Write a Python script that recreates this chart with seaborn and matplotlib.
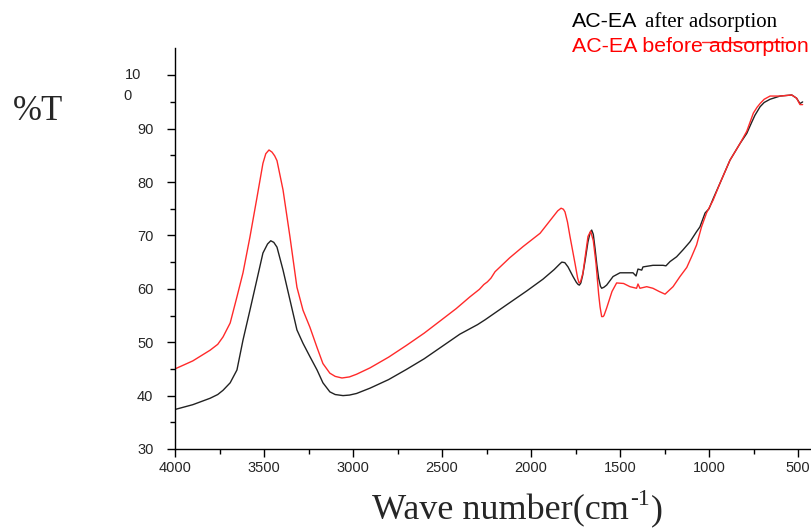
import matplotlib
matplotlib.use("Agg")
import matplotlib.pyplot as plt
from matplotlib.lines import Line2D
import numpy as np
import pandas as pd
import seaborn as sns

# ---------------- data ----------------
after_wn = [4000, 3900, 3803, 3760, 3730, 3690, 3652, 3618, 3579, 3540, 3506, 3480,
            3462, 3445, 3427, 3393, 3354, 3315, 3281, 3242, 3202, 3169, 3130, 3100,
            3056, 3020, 2980, 2904, 2800, 2700, 2600, 2500, 2400, 2300, 2258, 2137,
            2024, 1933, 1870, 1840, 1827, 1810, 1792, 1764, 1745, 1735, 1728, 1720,
            1710, 1695, 1680, 1668, 1659, 1650, 1640, 1630, 1620, 1610, 1603, 1590,
            1575, 1539, 1500, 1427, 1410, 1399, 1378, 1371, 1315, 1258, 1242, 1219,
            1182, 1146, 1107, 1070, 1051, 1022, 1000, 975, 938, 882, 826, 788, 760,
            742, 713, 690, 657, 601, 535, 508, 489, 474]
after_T = [37.4, 38.3, 39.5, 40.2, 41.0, 42.4, 44.8, 50.4, 56.0, 61.7, 66.7, 68.4,
           69.0, 68.7, 67.8, 63.5, 57.9, 52.3, 49.8, 47.3, 44.8, 42.4, 40.7, 40.2,
           40.0, 40.1, 40.4, 41.4, 43.0, 44.9, 46.9, 49.2, 51.5, 53.3, 54.2, 57.0,
           59.6, 61.8, 63.6, 64.6, 65.0, 64.9, 64.1, 62.3, 61.2, 60.8, 60.7, 61.1,
           62.5, 65.5, 68.8, 70.5, 71.0, 70.2, 67.5, 64.5, 62.0, 60.5, 60.1, 60.3,
           60.7, 62.3, 63.0, 63.0, 62.4, 63.7, 63.5, 64.1, 64.4, 64.4, 64.3, 65.1,
           66.0, 67.3, 68.8, 70.7, 71.6, 74.2, 75.0, 77.0, 79.8, 84.1, 87.2, 89.1,
           91.2, 92.5, 94.1, 94.9, 95.5, 96.1, 96.3, 95.7, 94.7, 95.0]

before_wn = [4000, 3900, 3803, 3760, 3730, 3690, 3652, 3618, 3579, 3540, 3506, 3490,
             3472, 3455, 3440, 3427, 3393, 3354, 3315, 3281, 3242, 3202, 3169, 3130,
             3100, 3062, 3020, 2980, 2904, 2800, 2700, 2600, 2502, 2420, 2343, 2290,
             2265, 2245, 2225, 2202, 2120, 2045, 1949, 1876, 1850, 1831, 1818, 1809,
             1795, 1781, 1753, 1738, 1730, 1722, 1708, 1680, 1665, 1650, 1635, 1620,
             1612, 1603, 1595, 1590, 1575, 1545, 1519, 1480, 1444, 1407, 1399, 1388,
             1350, 1315, 1280, 1247, 1202, 1163, 1125, 1098, 1070, 1042, 1014, 977,
             938, 882, 826, 788, 751, 730, 713, 690, 657, 601, 535, 508, 489, 474]
before_T = [45.0, 46.5, 48.5, 49.6, 51.0, 53.6, 58.5, 63.0, 69.7, 77.0, 83.5, 85.3,
            86.0, 85.6, 84.9, 84.0, 78.5, 69.7, 60.3, 56.0, 52.8, 49.0, 46.0, 44.2,
            43.6, 43.3, 43.5, 44.0, 45.2, 47.2, 49.4, 51.7, 54.2, 56.3, 58.5, 59.9,
            60.8, 61.3, 62.0, 63.2, 65.8, 67.9, 70.4, 73.5, 74.6, 75.1, 74.9, 74.4,
            72.5, 69.8, 64.8, 62.0, 61.1, 61.3, 63.0, 69.8, 70.8, 69.0, 64.8, 59.0,
            56.6, 54.8, 54.8, 55.0, 56.4, 59.5, 61.1, 61.0, 60.4, 60.1, 60.9, 60.1,
            60.4, 60.1, 59.5, 59.0, 60.4, 62.3, 64.0, 66.0, 68.2, 71.6, 74.2, 76.6,
            79.8, 84.1, 87.2, 89.5, 92.9, 94.0, 94.7, 95.5, 96.1, 96.1, 96.3, 95.7,
            94.5, 94.5]

x_major = [4000, 3500, 3000, 2500, 2000, 1500, 1000, 500]
y_major = [30, 40, 50, 60, 70, 80, 90]

df = pd.concat([
    pd.DataFrame({"wn": after_wn, "T": after_T, "sample": "after"}),
    pd.DataFrame({"wn": before_wn, "T": before_T, "sample": "before"}),
])

# ---------------- style ----------------
sns.set_style("ticks")
plt.rcParams["font.family"] = ["Liberation Sans", "DejaVu Sans"]

W, H = 811, 529
fig = plt.figure(figsize=(W / 100, H / 100), dpi=100)
ax = fig.add_axes([175 / W, 1 - 449 / H, (811 - 175) / W, (449 - 48) / H])

sns.lineplot(data=df, x="wn", y="T", hue="sample",
             palette={"after": "#222222", "before": "#ff2a2a"},
             estimator=None, legend=False, linewidth=1.0, ax=ax)

ax.set_xlim(4000, 427)
ax.set_ylim(30, 105.1)
ax.set_xticks(x_major)
ax.set_xticklabels([str(v) for v in x_major])
ax.set_xticks(np.arange(3750, 400, -500), minor=True)
ax.set_yticks(y_major + [100])
ax.set_yticklabels([str(v) for v in y_major] + [""])
ax.set_yticks(np.arange(35, 100, 10), minor=True)
ax.set_xlabel("")
ax.set_ylabel("")
for s in ("top", "right"):
    ax.spines[s].set_visible(False)
for s in ("left", "bottom"):
    ax.spines[s].set_linewidth(1.0)
    ax.spines[s].set_color("black")
ax.tick_params(axis="both", which="major", direction="out", length=6, width=1,
               labelsize=10.5, color="black")
ax.tick_params(axis="both", which="minor", direction="out", length=3.5, width=1,
               color="black")
ax.tick_params(axis="y", which="major", pad=9.5)
ax.tick_params(axis="x", which="major", pad=3)


def px(x, y):
    return x / W, 1 - y / H


# the wrapped "100" label
fig.text(*px(141, 75), "10", ha="right", va="center", fontsize=10.5)
fig.text(*px(123, 96), "0", ha="left", va="center", fontsize=10.5)

serif = ["Liberation Serif", "DejaVu Serif"]

# y label
fig.text(*px(13, 120), "%T", family=serif, fontsize=25, ha="left", va="baseline")

# x label built from pieces (hyphen-style superscript)
fig.canvas.draw()
r = fig.canvas.get_renderer()
t1 = fig.text(*px(372, 519), "Wave number(cm", family=serif, fontsize=26,
              ha="left", va="baseline")
x1 = t1.get_window_extent(r).x1
t2 = fig.text(x1 / W + 1 / W, 1 - 505 / H, "-1", family=serif, fontsize=17,
              ha="left", va="baseline")
x2 = t2.get_window_extent(r).x1
fig.text(x2 / W + 1 / W, 1 - 519 / H, ")", family=serif, fontsize=26,
         ha="left", va="baseline")

# legend (text outside axes)
fig.text(*px(572, 27), "AC-EA", fontsize=15.4, ha="left", va="baseline", color="black")
fig.text(*px(645, 27), "after adsorption", family=serif, fontsize=15,
         ha="left", va="baseline", color="black")
fig.text(*px(572, 52.5), "AC-EA before adsorption", fontsize=15.4, ha="left",
         va="baseline", color="#ff0000")
fig.add_artist(Line2D([702 / W, 793 / W], [1 - 42.3 / H, 1 - 42.3 / H],
                      color="#ff2a2a", linewidth=1.0))

fig.savefig("out.png", dpi=100)
